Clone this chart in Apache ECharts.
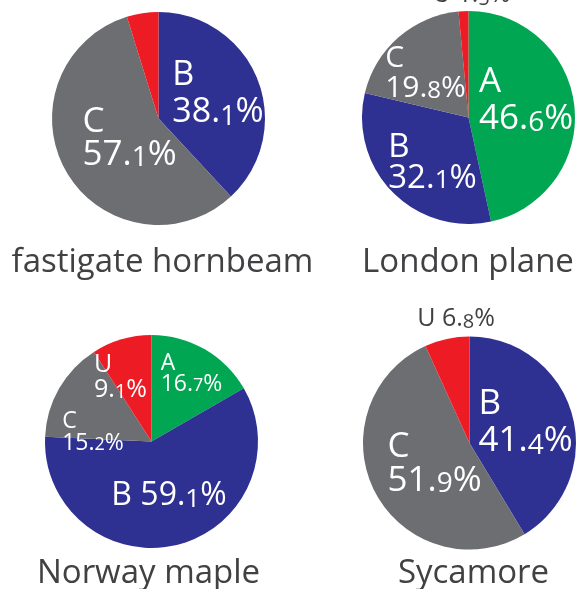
<!DOCTYPE html>
<html><head><meta charset="utf-8">
<script src="https://cdn.jsdelivr.net/npm/echarts@6/dist/echarts.min.js"></script>
<style>html,body{margin:0;padding:0;background:#fff}#c{width:582px;height:589px}</style>
</head><body><div id="c"></div><script>
// ---- data ----
const titles = ['fastigate hornbeam', 'London plane', 'Norway maple', 'Sycamore'];
const hornbeamNames = ['B', 'C', 'U'];
const hornbeamValues = [38.1, 57.1, 4.8];
const londonNames = ['A', 'B', 'C', 'U'];
const londonValues = [46.6, 32.1, 19.8, 1.5];
const norwayNames = ['A', 'B', 'C', 'U'];
const norwayValues = [16.7, 59.1, 15.2, 9.1];
const sycamoreNames = ['B', 'C', 'U'];
const sycamoreValues = [41.4, 51.9, 6.8];

// ---- style ----
const colors = {A: '#00A651', B: '#2E3192', C: '#6D6E71', U: '#ED1C24'};
const FONT = 'Open Sans';
const DARK = '#414042';
const R = 106.5;

const pies = [
  {names: hornbeamNames, values: hornbeamValues},
  {names: londonNames, values: londonValues},
  {names: norwayNames, values: norwayValues},
  {names: sycamoreNames, values: sycamoreValues}
];

// label offsets are relative to each pie's centre
const layouts = [
  {center: [158.5, 118.5], title: [162.5, 263],
   labels: {B: {fs: 34, lh: 37, off: [59.5, -25]}, C: {fs: 35, lh: 33, off: [-29, 20.5]}, U: {show: false}}},
  {center: [468.5, 117.5], title: [468, 263],
   labels: {A: {fs: 35, lh: 37, off: [57.5, -17]}, B: {fs: 33, lh: 31, off: [-36, 45.5]},
            C: {fs: 30, lh: 30, off: [-43, -44.5]}, U: {fs: 25, lh: 28, off: [3, -122.5], sep: ' ', color: DARK}}},
  {center: [151.5, 441.5], title: [148.5, 574],
   labels: {A: {fs: 23, lh: 21, off: [40, -68]}, B: {fs: 32, lh: 34, off: [17.5, 54], sep: ' '},
            C: {fs: 23, lh: 22, off: [-58.5, -9.5]}, U: {fs: 25, lh: 25, off: [-31, -64]}}},
  {center: [469.5, 443], title: [473.5, 574],
   labels: {B: {fs: 35, lh: 37, off: [56, -20]}, C: {fs: 35, lh: 34, off: [-35, 21.5]},
            U: {fs: 25, lh: 28, off: [-13.5, -124.5], sep: ' ', color: DARK}}}
];

function makeLabel(s) {
  if (!s || s.show === false) return {show: false};
  const F = s.fs, f = Math.round(F * 0.8), L = s.lh, k = 0.35;
  const col = s.color || '#fff';
  const oneLine = s.sep === ' ';
  return {
    show: true, position: 'center', offset: s.off, color: col, fontFamily: FONT, fontSize: F, lineHeight: L,
    formatter: function (p) {
      const parts = p.value.toFixed(1).split('.');
      return '{n|' + p.name + (oneLine ? ' ' : '') + '}' + (oneLine ? '' : '\n') +
        '{n|' + parts[0] + '.}{d|' + parts[1] + '}{n|%}';
    },
    rich: {
      n: {fontSize: F, lineHeight: L, fontFamily: FONT, color: col, align: 'left'},
      d: {fontSize: f, lineHeight: L - 2 * k * (F - f), verticalAlign: 'bottom', fontFamily: FONT, color: col, align: 'left'}
    }
  };
}

const series = pies.map(function (p, i) {
  const L = layouts[i];
  return {
    type: 'pie', center: L.center, radius: [0, R], startAngle: 90, clockwise: true,
    silent: true, animation: false, avoidLabelOverlap: false, minShowLabelAngle: 0,
    labelLayout: {hideOverlap: false},
    itemStyle: {borderWidth: 0},
    labelLine: {show: false},
    data: p.names.map(function (n, j) {
      return {name: n, value: p.values[j], itemStyle: {color: colors[n], borderWidth: 0}, label: makeLabel(L.labels[n])};
    })
  };
});

const graphic = layouts.map(function (L, i) {
  return {type: 'text', x: L.title[0], y: L.title[1], silent: true,
    style: {text: titles[i], fill: DARK, font: '33px "Open Sans"', align: 'center', verticalAlign: 'middle'}};
});

const chart = echarts.init(document.getElementById('c'), null, {renderer: 'canvas'});
chart.setOption({animation: false, series: series, graphic: graphic});
</script></body></html>
